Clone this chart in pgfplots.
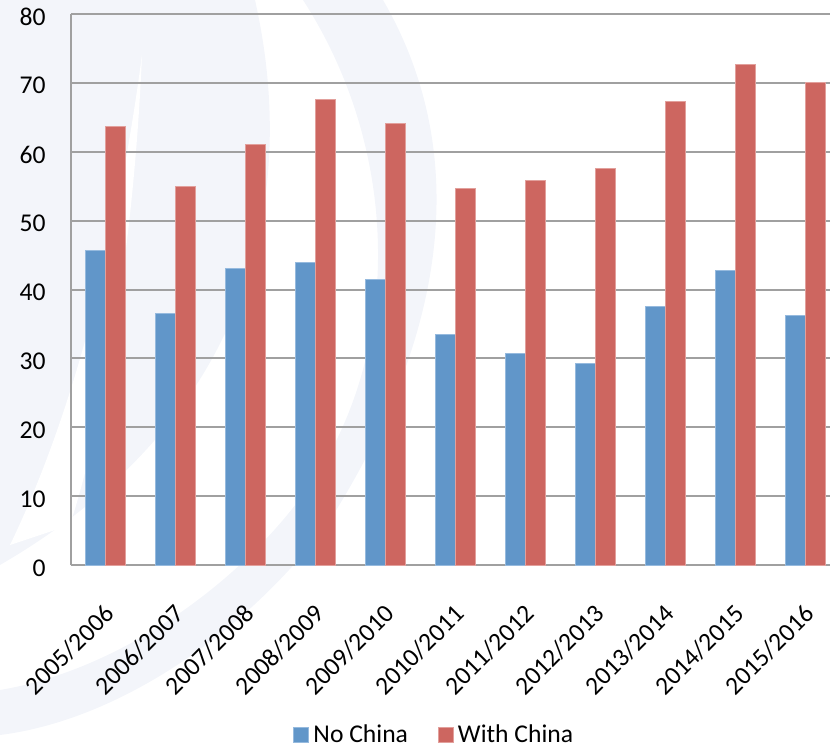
\documentclass[border=0pt]{standalone}
\usepackage{fontspec}
\setmainfont{Carlito}
\usepackage{pgfplots}
\usepackage{pgfplotstable}
\pgfplotsset{compat=1.18}

\definecolor{nochina}{RGB}{97,150,201}
\definecolor{nochinaedge}{RGB}{150,186,222}
\definecolor{withchina}{RGB}{205,102,96}
\definecolor{withchinaedge}{RGB}{226,160,156}
\definecolor{gridgray}{RGB}{160,160,160}
\definecolor{logotint}{RGB}{243,245,250}

\pgfplotstableread{
idx nochina withchina
0  45.6 63.6
1  36.5 54.9
2  43.1 61.1
3  43.9 67.6
4  41.4 64.1
5  33.5 54.6
6  30.7 55.8
7  29.2 57.5
8  37.6 67.3
9  42.8 72.6
10 36.2 70.0
}\seasons

\begin{document}
\begin{tikzpicture}
\useasboundingbox (0,0) rectangle (415pt,-374pt);
% faint swoosh logo in the slide background
\begin{scope}[x=0.5pt,y=-0.5pt]
  \fill[logotint] (0,0) -- (255,0) .. controls (300,200) and (250,420) .. (0,565) -- cycle;
  \fill[white] (142,55) .. controls (120,220) and (80,400) .. (10,545)
     -- (70,525) .. controls (110,400) and (135,220) .. (142,55) -- cycle;
  \fill[logotint] (383,0) .. controls (470,150) and (450,330) .. (330,520)
     .. controls (250,630) and (120,720) .. (0,735)
     -- (0,690) .. controls (120,670) and (250,580) .. (320,470)
     .. controls (400,340) and (400,150) .. (303,0) -- cycle;
\end{scope}

\begin{axis}[
  at={(35.5pt,-282.65pt)}, anchor=south west,
  scale only axis, width=379.5pt, height=275.8pt,
  xmin=-0.5, xmax=10.343, ymin=0, ymax=80,
  axis x line*=bottom, axis y line*=left,
  axis line style={-, draw=gridgray, line width=1pt},
  ytick={0,10,...,80},
  ymajorgrids, grid style={draw=gridgray, line width=1pt},
  xtick={0,...,10},
  xticklabels={2005/2006,2006/2007,2007/2008,2008/2009,2009/2010,2010/2011,2011/2012,2012/2013,2013/2014,2014/2015,2015/2016},
  major tick length=0pt,
  /pgf/number format/assume math mode=true,
  tick label style={font=\fontsize{12.8}{15}\selectfont, text=black},
  yticklabel style={inner sep=0pt, xshift=-12.5pt, yshift=-1.5pt},
  xticklabel style={xshift=-1.5pt, yshift=-18.6pt, rotate=45, anchor=north east, inner sep=0pt},
  ybar=0pt, bar width=10pt,
  legend columns=2,
  legend style={at={(0.48,-0.3077)}, anchor=center, draw=none, fill=none,
    font=\fontsize{12.8}{15}\selectfont,
    /tikz/every even column/.append style={column sep=13pt}},
  legend image code/.code={\fill[#1] (0pt,-3.75pt) rectangle (7.5pt,3.75pt);},
]
\addplot[fill=nochina, draw=nochinaedge, line width=0.5pt] table[x=idx, y=nochina] {\seasons};
\addlegendentry{No China}
\addplot[fill=withchina, draw=withchinaedge, line width=0.5pt] table[x=idx, y=withchina] {\seasons};
\addlegendentry{With China}
\end{axis}
\end{tikzpicture}
\end{document}
